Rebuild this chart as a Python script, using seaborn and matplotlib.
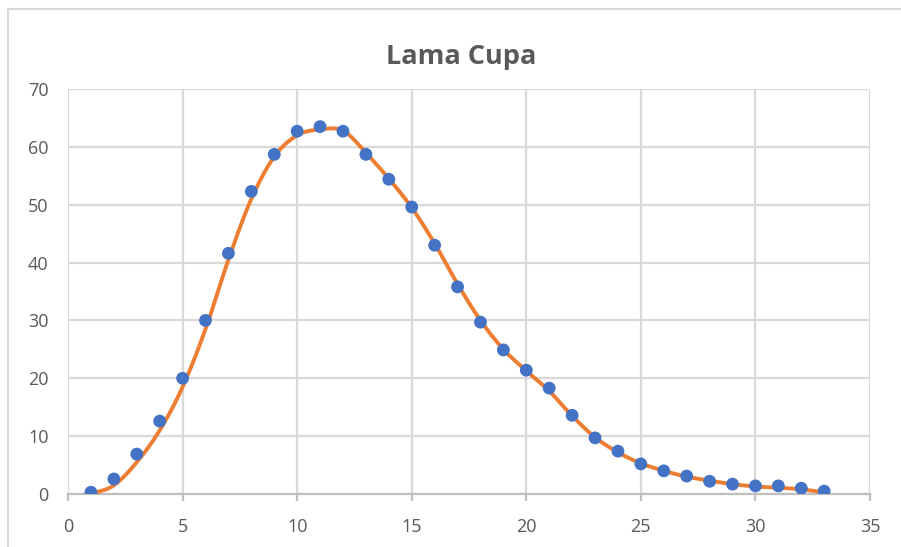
import numpy as np
import pandas as pd
import seaborn as sns
import matplotlib.pyplot as plt
from matplotlib.patches import Rectangle

# measured points (blue)
x_vals = list(range(1, 34))
y_points = [0.3, 2.6, 6.9, 12.6, 20.0, 30.0, 41.6, 52.3, 58.7, 62.7, 63.5,
            62.7, 58.7, 54.4, 49.6, 43.0, 35.8, 29.7, 24.9, 21.4, 18.3, 13.6,
            9.7, 7.4, 5.2, 4.0, 3.1, 2.2, 1.7, 1.4, 1.4, 1.0, 0.5]
# fitted curve (orange), read at the same x
y_curve = [0.0, 1.5, 5.5, 11.0, 18.5, 28.5, 40.5, 51.0, 58.3, 62.0, 63.0,
           62.8, 59.0, 54.5, 49.5, 43.3, 36.3, 30.0, 25.0, 21.3, 17.8, 13.5,
           9.8, 7.2, 5.3, 4.0, 3.0, 2.3, 1.7, 1.3, 1.1, 0.8, 0.3]
x_ticks = [0, 5, 10, 15, 20, 25, 30, 35]
y_ticks = [0, 10, 20, 30, 40, 50, 60, 70]
title = "Lama Cupa"


def catmull_rom(xs, ys, n=12):
    # Excel-like smoothed line drawn through the read values
    px = np.array(xs, float)
    py = np.array(ys, float)
    px = np.concatenate([[2 * px[0] - px[1]], px, [2 * px[-1] - px[-2]]])
    py = np.concatenate([[2 * py[0] - py[1]], py, [2 * py[-1] - py[-2]]])
    ox, oy = [], []
    t = np.linspace(0, 1, n, endpoint=False)
    for i in range(1, len(px) - 2):
        for arr, out in ((px, ox), (py, oy)):
            p0, p1, p2, p3 = arr[i - 1], arr[i], arr[i + 1], arr[i + 2]
            out.extend(0.5 * (2 * p1 + (-p0 + p2) * t
                              + (2 * p0 - 5 * p1 + 4 * p2 - p3) * t ** 2
                              + (-p0 + 3 * p1 - 3 * p2 + p3) * t ** 3))
    ox.append(xs[-1])
    oy.append(ys[-1])
    return ox, oy


sx, sy = catmull_rom(x_vals, y_curve)
curve = pd.DataFrame({"x": sx, "y": sy})
pts = pd.DataFrame({"x": x_vals, "y": y_points})

sns.set_style("white")
plt.rcParams["font.family"] = ["Open Sans", "DejaVu Sans"]

fig = plt.figure(figsize=(9.01, 5.47), dpi=100)
ax = fig.add_axes([0.0755, 0.0969, 0.8901, 0.7404])

sns.lineplot(data=curve, x="x", y="y", sort=False, estimator=None,
             color="#ED7D31", linewidth=2.8, ax=ax, zorder=3)
sns.scatterplot(data=pts, x="x", y="y", color="#4472C4", s=85,
                edgecolor="none", ax=ax, zorder=4)

ax.set_xlim(0, 35)
ax.set_ylim(0, 70)
ax.set_xticks(x_ticks)
ax.set_yticks(y_ticks)
ax.set_xlabel("")
ax.set_ylabel("")
ax.grid(True, color="#D9D9D9", linewidth=1.6)
ax.set_axisbelow(True)
for s in ["top", "right", "left"]:
    ax.spines[s].set_visible(False)
ax.spines["bottom"].set_color("#BFBFBF")
ax.spines["bottom"].set_linewidth(1.6)
ax.tick_params(axis="x", length=5, width=1.6, color="#BFBFBF", pad=12,
               labelsize=13, labelcolor="#595959", direction="out", bottom=True)
ax.tick_params(axis="y", length=0, pad=14, labelsize=13, labelcolor="#595959")

fig.text(0.512, 0.895, title, ha="center", va="center", fontsize=19.5,
         fontweight="bold", color="#595959")

# chart frame (cropped at right and bottom)
fig.patches.append(Rectangle((0.009, -0.1), 1.2, 1.0835, transform=fig.transFigure,
                             fill=False, edgecolor="#D9D9D9", linewidth=1.5))

fig.savefig("out.png", dpi=100)
